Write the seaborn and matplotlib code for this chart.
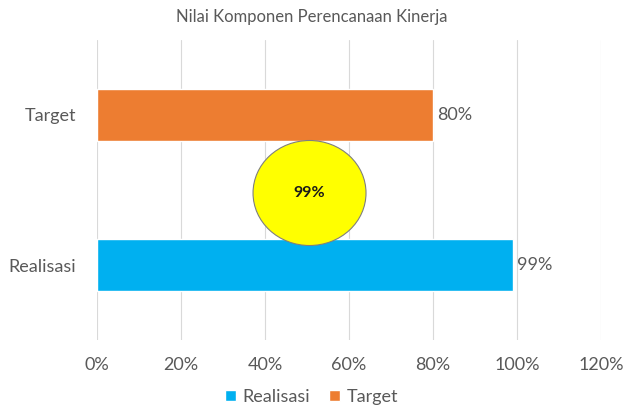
import matplotlib
matplotlib.use("Agg")
import matplotlib.pyplot as plt
from matplotlib.patches import Ellipse, Patch
import seaborn as sns
import pandas as pd

categories = ["Realisasi", "Target"]
values = [99, 80]
colors = ["#00B0F0", "#ED7D31"]
xticks = [0, 20, 40, 60, 80, 100, 120]
title = "Nilai Komponen Perencanaan Kinerja"
badge_value = 99

sns.set_theme(style="white")
plt.rcParams["font.family"] = ["Lato", "DejaVu Sans"]
text_color = "#595959"

df = pd.DataFrame({"kategori": categories, "nilai": values})
order = categories[::-1]  # Target on top

fig = plt.figure(figsize=(6.23, 4.11), dpi=100)
ax = fig.add_axes([0.1557, 0.1727, 0.809, 0.730])

sns.barplot(data=df, y="kategori", x="nilai", hue="kategori", order=order,
            hue_order=categories, palette=colors, width=0.35, dodge=False,
            legend=False, ax=ax, saturation=1)

ax.set_xlim(0, 120)
ax.set_ylim(1.5, -0.5)
ax.set_xticks(xticks)
ax.set_xticklabels([f"{t}%" for t in xticks], fontsize=13, color=text_color)
ax.tick_params(axis="y", labelsize=13, labelcolor=text_color, length=0, pad=15)
ax.tick_params(axis="x", length=0, pad=12)
ax.set_xlabel("")
ax.set_ylabel("")
ax.grid(axis="x", color="#D9D9D9", linewidth=0.8)
ax.set_axisbelow(True)
for s in ax.spines.values():
    s.set_visible(False)

for cat, v in zip(categories, values):
    ax.text(v + 1, order.index(cat), f"{v}%", va="center", ha="left",
            fontsize=13, color=text_color)

# highlighted value badge between the bars
ax.add_patch(Ellipse((50.6, 0.52), 26.9, 0.70, facecolor="#FFFF00",
                     edgecolor="#7F7F7F", linewidth=0.8, zorder=5))
ax.text(50.6, 0.52, f"{badge_value}%", ha="center", va="center",
        fontsize=11.5, fontweight="bold", color="#1a1a1a", zorder=6)

fig.text(0.5, 0.958, title, ha="center", va="center", fontsize=12,
         color=text_color)

handles = [Patch(facecolor=c, label=l) for l, c in zip(categories, colors)]
fig.legend(handles=handles, loc="center", bbox_to_anchor=(0.5, 0.035), ncol=2,
           frameon=False, fontsize=13, handlelength=0.6, handleheight=0.6,
           handletextpad=0.35, columnspacing=1.1, labelcolor=text_color)

fig.savefig("out.png", dpi=100)
